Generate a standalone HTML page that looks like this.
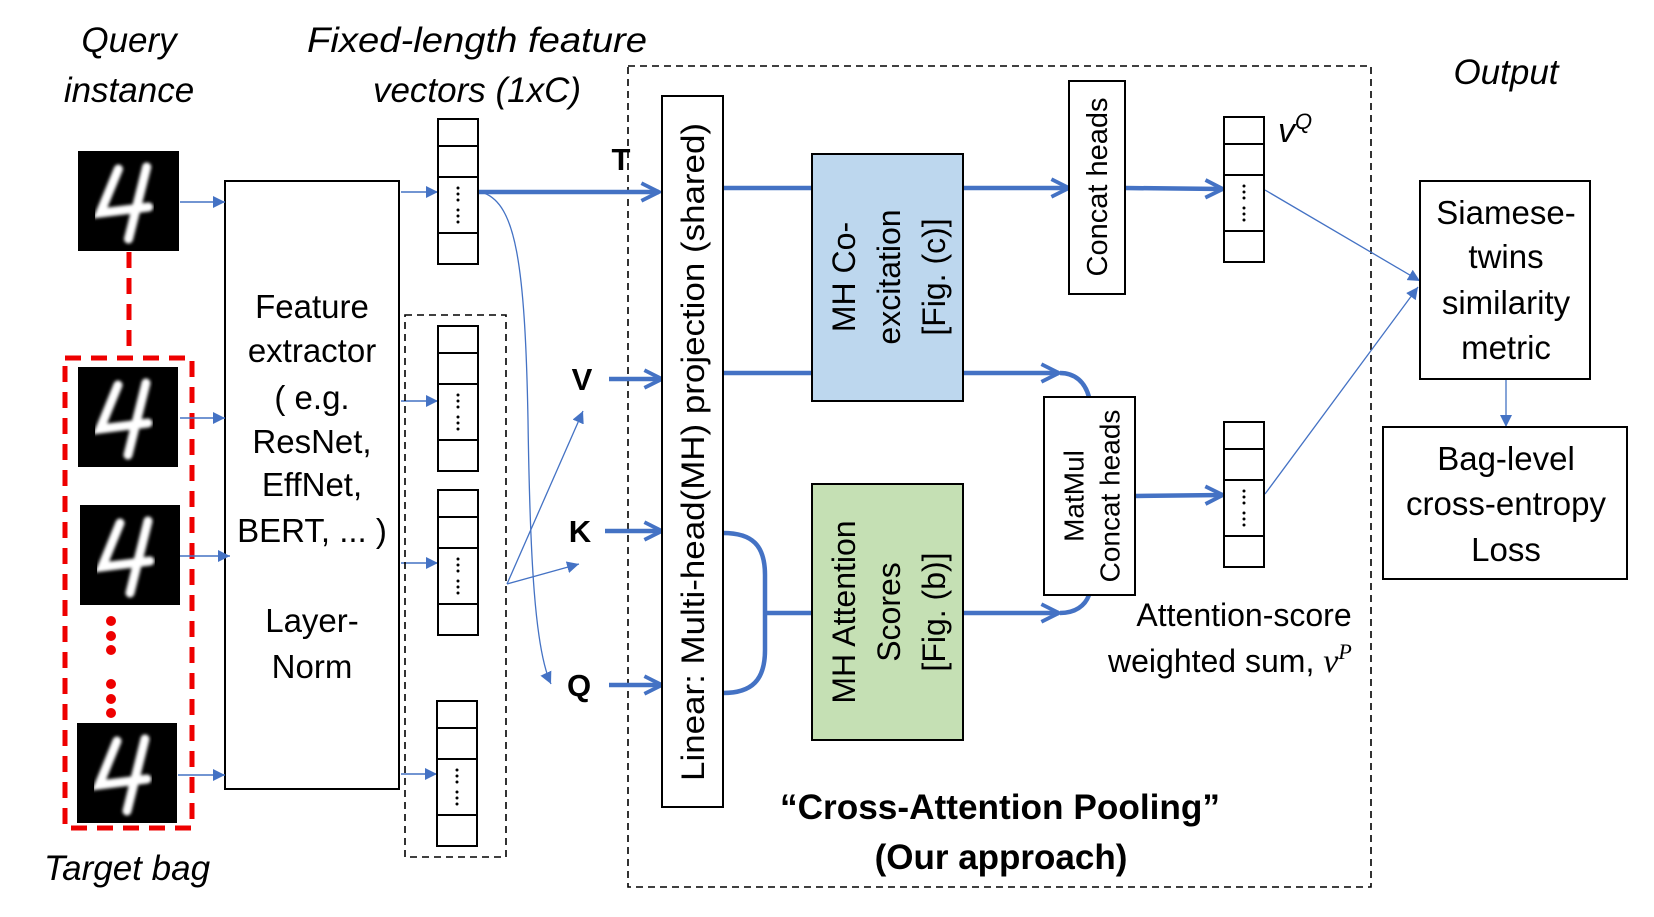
<!DOCTYPE html>
<html><head><meta charset="utf-8"><style>
html,body{margin:0;padding:0;background:#fff;}
svg{display:block;}
text{font-family:"Liberation Sans",sans-serif;fill:#000;}
</style></head><body>
<svg width="1654" height="917" viewBox="0 0 1654 917" xmlns="http://www.w3.org/2000/svg">
<defs>
<marker id="tri" viewBox="0 0 10 10" refX="10" refY="5" markerWidth="12" markerHeight="12" markerUnits="userSpaceOnUse" orient="auto"><path d="M0,0 L10,5 L0,10 z" fill="#4472c4"/></marker>
<marker id="vee" viewBox="0 0 20 20" refX="18" refY="10" markerWidth="22" markerHeight="22" markerUnits="userSpaceOnUse" orient="auto"><path d="M2,2 L18,10 L2,18" fill="none" stroke="#4472c4" stroke-width="3.5"/></marker>
<filter id="bl"><feGaussianBlur stdDeviation="1.6"/></filter>
<g id="four"><rect x="0" y="0" width="100" height="100" fill="#000"/><path d="M40,18 L22,62 L70,56 M68,16 L50,88" stroke="#fff" stroke-width="9" fill="none" stroke-linecap="round" filter="url(#bl)"/></g>
<g id="vec"><rect x="0" y="0" width="40" height="145" fill="#fff" stroke="#000" stroke-width="2"/><line x1="0" y1="27" x2="40" y2="27" stroke="#000" stroke-width="2"/><line x1="0" y1="58" x2="40" y2="58" stroke="#000" stroke-width="2"/><line x1="0" y1="114" x2="40" y2="114" stroke="#000" stroke-width="2"/><g fill="#000"><circle cx="20" cy="69" r="1.5"/><circle cx="20" cy="75" r="1.5"/><circle cx="20" cy="81" r="1.5"/><circle cx="20" cy="91" r="1.5"/><circle cx="20" cy="97" r="1.5"/><circle cx="20" cy="103" r="1.5"/></g></g>
</defs>

<text x="129" y="52" font-size="35" font-style="italic" text-anchor="middle">Query</text>
<text x="129" y="102" font-size="35" font-style="italic" text-anchor="middle">instance</text>
<text x="477" y="52" font-size="35" font-style="italic" text-anchor="middle" textLength="340" lengthAdjust="spacingAndGlyphs">Fixed-length feature</text>
<text x="477" y="102" font-size="35" font-style="italic" text-anchor="middle">vectors (1xC)</text>
<text x="1506" y="84" font-size="35" font-style="italic" text-anchor="middle">Output</text>
<text x="127" y="880" font-size="35" font-style="italic" text-anchor="middle">Target bag</text>

<use href="#four" transform="translate(78,151) scale(1.01,1.0)"/>
<line x1="129" y1="252" x2="129" y2="357" stroke="#e00" stroke-width="5" stroke-dasharray="16,10"/>
<rect x="65" y="358" width="127" height="470" fill="none" stroke="#e00" stroke-width="5" stroke-dasharray="16,10"/>
<use href="#four" transform="translate(78,367)"/>
<use href="#four" transform="translate(80,505)"/>
<use href="#four" transform="translate(77,723)"/>
<g fill="#e00"><circle cx="111" cy="621" r="5"/><circle cx="111" cy="636" r="5"/><circle cx="111" cy="650" r="5"/><circle cx="111" cy="684" r="5"/><circle cx="111" cy="699" r="5"/><circle cx="111" cy="713" r="5"/></g>

<rect x="225" y="181" width="174" height="608" fill="#fff" stroke="#000" stroke-width="2"/>
<g font-size="33" text-anchor="middle">
<text x="312" y="318">Feature</text>
<text x="312" y="362">extractor</text>
<text x="312" y="409">( e.g.</text>
<text x="312" y="453">ResNet,</text>
<text x="312" y="496">EffNet,</text>
<text x="312" y="542">BERT, ... )</text>
<text x="312" y="632">Layer-</text>
<text x="312" y="678">Norm</text>
</g>
<g stroke="#4472c4" stroke-width="1.4" fill="none" marker-end="url(#tri)">
<line x1="180" y1="202" x2="225" y2="202"/>
<line x1="180" y1="418" x2="225" y2="418"/>
<line x1="180" y1="556" x2="230" y2="556"/>
<line x1="178" y1="775" x2="225" y2="775"/>
<line x1="401" y1="192" x2="438" y2="192"/>
<line x1="401" y1="401" x2="438" y2="401"/>
<line x1="401" y1="563" x2="438" y2="563"/>
<line x1="401" y1="774" x2="437" y2="774"/>
</g>

<use href="#vec" transform="translate(438,119)"/>
<rect x="405" y="315" width="101" height="542" fill="none" stroke="#000" stroke-width="1.6" stroke-dasharray="7,5"/>
<use href="#vec" transform="translate(438,326)"/>
<use href="#vec" transform="translate(438,490)"/>
<use href="#vec" transform="translate(437,701)"/>

<rect x="628" y="66" width="743" height="821" fill="none" stroke="#000" stroke-width="1.6" stroke-dasharray="7,5"/>

<g stroke="#4472c4" stroke-width="1.3" fill="none" marker-end="url(#tri)">
<path d="M484,193 C515,205 525,260 528,420 C530,560 535,650 551,684"/>
<line x1="507" y1="584" x2="583" y2="411"/>
<line x1="507" y1="584" x2="579" y2="564"/>
<line x1="1265" y1="190" x2="1420" y2="281"/>
<line x1="1265" y1="494" x2="1418" y2="287"/>
<line x1="1506" y1="379" x2="1506" y2="427"/>
</g>

<g font-size="31" font-weight="bold" text-anchor="middle">
<text x="621" y="170">T</text>
<text x="582" y="390">V</text>
<text x="580" y="542">K</text>
<text x="579" y="696">Q</text>
</g>

<g stroke="#4472c4" stroke-width="4.5" fill="none">
<line x1="479" y1="192" x2="659" y2="192" marker-end="url(#vee)"/>
<line x1="609" y1="379" x2="662" y2="379" marker-end="url(#vee)"/>
<line x1="605" y1="531" x2="662" y2="531" marker-end="url(#vee)"/>
<line x1="609" y1="685" x2="662" y2="685" marker-end="url(#vee)"/>
<line x1="723" y1="188" x2="812" y2="188"/>
<line x1="723" y1="373" x2="812" y2="373"/>
<path d="M723,533 C752,533 765,545 765,575 L765,650 C765,680 752,693 723,693"/>
<line x1="765" y1="613" x2="812" y2="613"/>
<line x1="963" y1="188" x2="1069" y2="188" marker-end="url(#vee)"/>
<line x1="1125" y1="188" x2="1223" y2="189" marker-end="url(#vee)"/>
<line x1="963" y1="373" x2="1059" y2="373" marker-end="url(#vee)"/>
<path d="M1060,373 C1075,373 1085,382 1089,397"/>
<line x1="963" y1="613" x2="1059" y2="613" marker-end="url(#vee)"/>
<path d="M1060,613 C1075,613 1085,606 1089,595"/>
<line x1="1135" y1="496" x2="1223" y2="495" marker-end="url(#vee)"/>
</g>

<rect x="662" y="96" width="61" height="711" fill="#fff" stroke="#000" stroke-width="2"/>
<text transform="translate(693,452) rotate(-90)" font-size="32" text-anchor="middle" dominant-baseline="central" textLength="658" lengthAdjust="spacingAndGlyphs">Linear: Multi-head(MH) projection (shared)</text>

<rect x="812" y="154" width="151" height="247" fill="#bdd7ee" stroke="#000" stroke-width="2"/>
<g font-size="32" text-anchor="middle" dominant-baseline="central">
<text transform="translate(844,277) rotate(-90)">MH Co-</text>
<text transform="translate(889,277) rotate(-90)">excitation</text>
<text transform="translate(934,277) rotate(-90)">[Fig. (c)]</text>
</g>

<rect x="812" y="484" width="151" height="256" fill="#c5e0b4" stroke="#000" stroke-width="2"/>
<g font-size="32" text-anchor="middle" dominant-baseline="central">
<text transform="translate(844,612) rotate(-90)">MH Attention</text>
<text transform="translate(889,612) rotate(-90)">Scores</text>
<text transform="translate(934,612) rotate(-90)">[Fig. (b)]</text>
</g>

<rect x="1069" y="81" width="56" height="213" fill="#fff" stroke="#000" stroke-width="2"/>
<text transform="translate(1098,187) rotate(-90)" font-size="29" text-anchor="middle" dominant-baseline="central">Concat heads</text>

<rect x="1044" y="397" width="91" height="198" fill="#fff" stroke="#000" stroke-width="2"/>
<g font-size="28" text-anchor="middle" dominant-baseline="central">
<text transform="translate(1074,496) rotate(-90)">MatMul</text>
<text transform="translate(1110,496) rotate(-90)">Concat heads</text>
</g>

<use href="#vec" transform="translate(1224,117)"/>
<use href="#vec" transform="translate(1224,422)"/>
<text x="1278" y="142" font-size="34" font-style="italic" font-family="Liberation Serif">v<tspan dy="-13" font-size="22">Q</tspan></text>
<text x="1244" y="626" font-size="32" text-anchor="middle">Attention-score</text>
<text x="1108" y="672" font-size="32">weighted sum, <tspan font-family="Liberation Serif" font-style="italic" font-size="34">v</tspan><tspan font-family="Liberation Serif" font-style="italic" font-size="22" dy="-13">P</tspan></text>

<rect x="1420" y="181" width="170" height="198" fill="#fff" stroke="#000" stroke-width="2"/>
<g font-size="33" text-anchor="middle">
<text x="1506" y="224">Siamese-</text>
<text x="1506" y="268">twins</text>
<text x="1506" y="314">similarity</text>
<text x="1506" y="359">metric</text>
</g>
<rect x="1383" y="427" width="244" height="152" fill="#fff" stroke="#000" stroke-width="2"/>
<g font-size="33" text-anchor="middle">
<text x="1506" y="470">Bag-level</text>
<text x="1506" y="515">cross-entropy</text>
<text x="1506" y="561">Loss</text>
</g>

<text x="1000" y="819" font-size="35" font-weight="bold" text-anchor="middle" textLength="440" lengthAdjust="spacingAndGlyphs">“Cross-Attention Pooling”</text>
<text x="1001" y="869" font-size="35" font-weight="bold" text-anchor="middle">(Our approach)</text>
</svg>
</body></html>
